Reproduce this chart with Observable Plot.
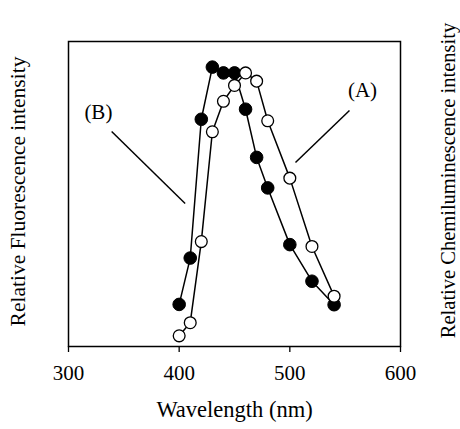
<!DOCTYPE html>
<html>
<head>
<meta charset="utf-8">
<script src="https://cdn.jsdelivr.net/npm/d3@7"></script>
<script src="https://cdn.jsdelivr.net/npm/@observablehq/plot@0.6"></script>
<style>
  html, body { margin: 0; padding: 0; background: #fff; }
</style>
</head>
<body>
<div id="chart"></div>
<script>
const wavelengths = [400, 410, 420, 430, 440, 450, 460, 470, 480, 500, 520, 540];
// (A) open circles – chemiluminescence
const seriesA = [3.5, 7.8, 34.4, 70.4, 80.4, 85.6, 89.7, 87.0, 74.0, 55.2, 32.8, 16.5];
// (B) filled circles – fluorescence
const seriesB = [13.8, 29.0, 74.5, 91.6, 89.7, 89.7, 77.8, 62.0, 52.0, 33.4, 21.4, 13.7];
const xTicks = [300, 400, 500, 600];
const xLabel = "Wavelength (nm)";
const yLabelLeft = "Relative Fluorescence intensity";
const yLabelRight = "Relative Chemiluminescence intensity";
const annotations = [
  {label: "(B)", x: 327, y: 76.7, x1: 339, y1: 70.5, x2: 405.4, y2: 46.9},
  {label: "(A)", x: 565.7, y: 83.9, x1: 553.9, y1: 77.4, x2: 505.1, y2: 60.3}
];

const dataA = wavelengths.map((w, i) => ({w, v: seriesA[i]}));
const dataB = wavelengths.map((w, i) => ({w, v: seriesB[i]}));

const chart = Plot.plot({
  width: 460,
  height: 429,
  marginLeft: 68,
  marginRight: 60,
  marginTop: 41,
  marginBottom: 83,
  style: {fontFamily: "'Liberation Serif', 'Times New Roman', serif", fontSize: "21px", background: "#fff", color: "#000", overflow: "visible"},
  x: {domain: [300, 600]},
  y: {domain: [0, 100]},
  marks: [
    Plot.frame({stroke: "#000", strokeWidth: 1.5}),
    Plot.axisX({ticks: xTicks, tickSize: 6, tickPadding: 13, tickFormat: d => String(d), label: null, stroke: "#000", strokeWidth: 1.3, fill: "#000"}),
    Plot.axisY({ticks: [], label: null}),
    Plot.text([xLabel], {frameAnchor: "bottom", dy: 70.6, text: d => d, fill: "#000", textAnchor: "middle", fontSize: 22.5}),
    Plot.text([yLabelLeft], {frameAnchor: "left", dx: -50.7, dy: -2.5, rotate: -90, text: d => d, fill: "#000", textAnchor: "middle", fontSize: 21.5}),
    Plot.text([yLabelRight], {frameAnchor: "right", dx: 48, dy: -13.5, rotate: -90, text: d => d, fill: "#000", textAnchor: "middle", fontSize: 20.5}),
    Plot.link(annotations, {x1: "x1", y1: "y1", x2: "x2", y2: "y2", stroke: "#000", strokeWidth: 1.5}),
    Plot.text(annotations, {x: "x", y: "y", text: "label", fill: "#000"}),
    Plot.line(dataB, {x: "w", y: "v", stroke: "#000", strokeWidth: 1.5}),
    Plot.line(dataA, {x: "w", y: "v", stroke: "#000", strokeWidth: 1.5}),
    Plot.dot(dataB, {x: "w", y: "v", r: 6.3, fill: "#000", stroke: "#000", strokeWidth: 1}),
    Plot.dot(dataA, {x: "w", y: "v", r: 5.9, fill: "#fff", stroke: "#000", strokeWidth: 1.3})
  ]
});
document.getElementById("chart").appendChild(chart);
</script>
</body>
</html>
